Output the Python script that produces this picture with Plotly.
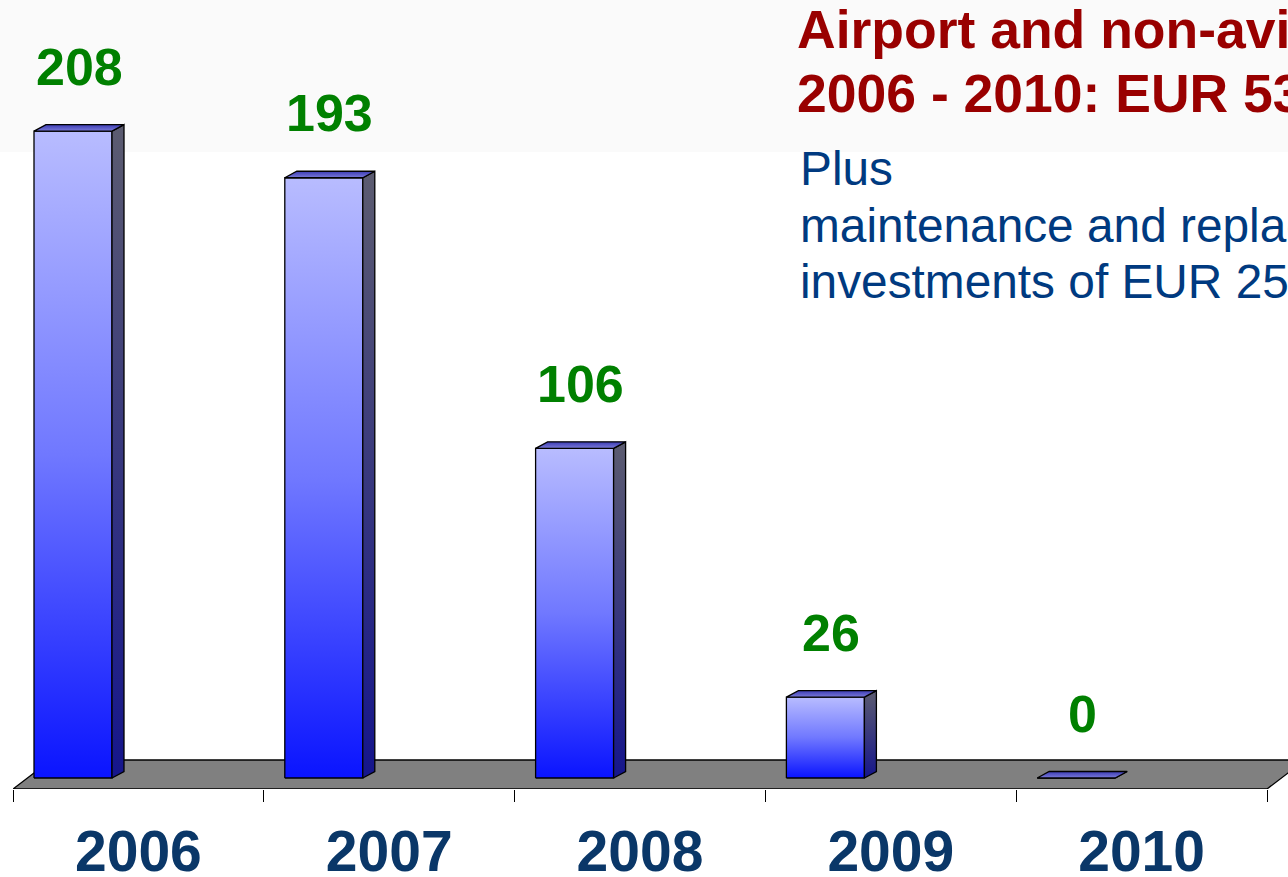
import plotly.graph_objects as go

years = ["2006", "2007", "2008", "2009", "2010"]
values = [208, 193, 106, 26, 0]
title_lines = ["Airport and non-aviation investments", "2006 - 2010: EUR 533 million"]
note_lines = ["Plus", "maintenance and replacement", "investments of EUR 250 million"]

W, H = 1288, 877
ML, MB = 13, 88
PX_X = 250.8          # pixels per category
PX_Y = 3.11           # pixels per value unit
plot_w = W - ML
plot_h = H - MB
x_max = plot_w / PX_X
y_min = -11 / PX_Y
y_max = y_min + plot_h / PX_Y

# 3D geometry (in data units)
off = 21 / PX_X
bw = 78 / PX_X
ddx = 12 / PX_X
ddy = 6.5 / PX_Y
fdx = 38 / PX_X
fy0 = y_min
fy1 = y_min + 29 / PX_Y

fig = go.Figure()

# floor
n = len(years)
fig.add_trace(go.Scatter(
    x=[0, n, n + fdx, fdx, 0], y=[fy0, fy0, fy1, fy1, fy0],
    fill="toself", fillcolor="#808080", mode="lines",
    line=dict(color="black", width=1.3), hoverinfo="skip", showlegend=False))

for i, v in enumerate(values):
    x0 = i + off
    x1 = x0 + bw
    # front face
    fig.add_trace(go.Scatter(
        x=[x0, x1, x1, x0, x0], y=[0, 0, v, v, 0],
        fill="toself", mode="lines", line=dict(color="black", width=1.3),
        fillgradient=dict(type="vertical",
                          colorscale=[[0, "#0a14ff"], [0.5, "#7078ff"], [1, "#b8bcff"]]),
        hoverinfo="skip", showlegend=False))
    # side face
    fig.add_trace(go.Scatter(
        x=[x1, x1 + ddx, x1 + ddx, x1, x1], y=[0, ddy, v + ddy, v, 0],
        fill="toself", mode="lines", line=dict(color="black", width=1.3),
        fillgradient=dict(type="vertical",
                          colorscale=[[0, "#15158c"], [1, "#5c5c70"]]),
        hoverinfo="skip", showlegend=False))
    # top face
    fig.add_trace(go.Scatter(
        x=[x0, x1, x1 + ddx, x0 + ddx, x0], y=[v, v, v + ddy, v + ddy, v],
        fill="toself", mode="lines", line=dict(color="black", width=1.3),
        fillgradient=dict(type="vertical",
                          colorscale=[[0, "#7a7ad8"], [1, "#3c3cb4"]]),
        hoverinfo="skip", showlegend=False))
    # value label
    fig.add_annotation(x=x0 + (bw + ddx) / 2, y=v + ddy, text=f"<b>{v}</b>",
                       showarrow=False, yshift=58, xanchor="center", yanchor="middle",
                       font=dict(family="Liberation Sans, Arial", size=52, color="#008000"))

# headline text
for k, t in enumerate(title_lines):
    fig.add_annotation(xref="paper", yref="paper", x=(795 - ML) / plot_w,
                       y=1 - (30 + 63 * k) / plot_h, text=f"<b>{t}</b>", showarrow=False,
                       xanchor="left", yanchor="middle",
                       font=dict(family="Liberation Sans, Arial", size=53.5, color="#990000"))
for k, t in enumerate(note_lines):
    fig.add_annotation(xref="paper", yref="paper", x=(798 - ML) / plot_w,
                       y=1 - (168 + 57 * k) / plot_h, text=t, showarrow=False,
                       xanchor="left", yanchor="middle",
                       font=dict(family="Liberation Sans, Arial", size=47.8, color="#003a80"))

# faint background band at top
fig.add_shape(type="rect", xref="paper", yref="paper", x0=-ML / plot_w, x1=1,
              y0=1 - 152 / plot_h, y1=1, fillcolor="#fafafa", line_width=0, layer="below")

fig.update_layout(
    width=W, height=H,
    margin=dict(l=ML, r=0, t=0, b=MB, autoexpand=False),
    plot_bgcolor="white", paper_bgcolor="white",
    xaxis=dict(range=[0, x_max], showgrid=False, zeroline=False, showline=False,
               automargin=False,
               tickvals=[i + 0.5 for i in range(n)], ticktext=[f"<b>{y}</b>" for y in years],
               ticks="", ticklabelstandoff=24,
               tickfont=dict(family="Liberation Sans, Arial", size=57, color="#0a3768"),
               minor=dict(tickvals=list(range(n + 1)), ticks="outside", ticklen=12,
                          tickcolor="black", tickwidth=1.3),
               fixedrange=True),
    yaxis=dict(range=[y_min, y_max], visible=False, fixedrange=True, automargin=False),
)

fig.write_html("out.html", config={"displayModeBar": False},
               post_script="document.body.style.margin='0px';"
                           "document.body.style.overflow='hidden';")
